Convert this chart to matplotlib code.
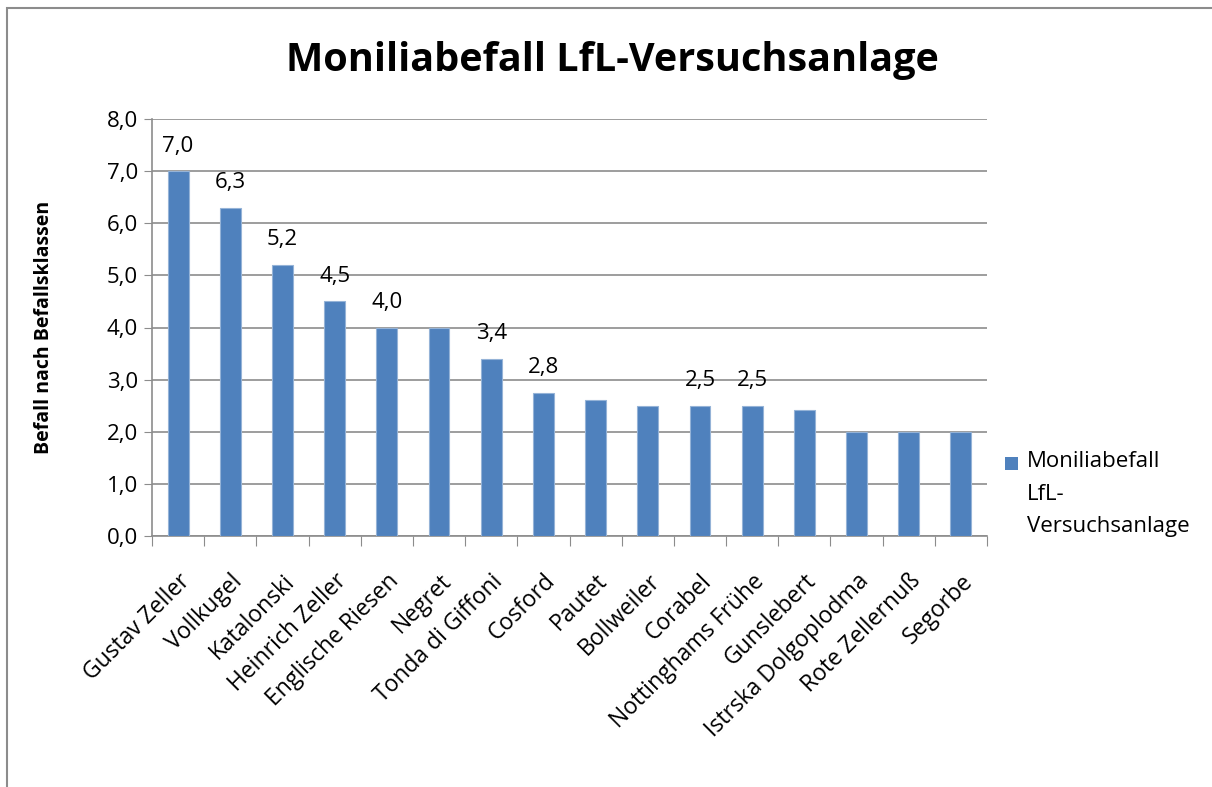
import matplotlib.pyplot as plt
from matplotlib.patches import Rectangle

plt.rcParams['font.family'] = ['Open Sans', 'DejaVu Sans']

# Daten
sorten = ['Gustav Zeller', 'Vollkugel', 'Katalonski', 'Heinrich Zeller', 'Englische Riesen',
          'Negret', 'Tonda di Giffoni', 'Cosford', 'Pautet', 'Bollweiler', 'Corabel',
          'Nottinghams Frühe', 'Gunslebert', 'Istrska Dolgoplodma', 'Rote Zellernuß', 'Segorbe']
befall = [7.0, 6.3, 5.2, 4.5, 4.0, 4.0, 3.4, 2.75, 2.6, 2.5, 2.5, 2.5, 2.42, 2.0, 2.0, 2.0]
# Datenbeschriftungen (nur bei einigen Balken sichtbar)
beschriftung = ['7,0', '6,3', '5,2', '4,5', '4,0', '', '3,4', '2,8', '', '', '2,5', '2,5', '', '', '', '']
y_ticks = [0, 1, 2, 3, 4, 5, 6, 7, 8]
serie = 'Moniliabefall\nLfL-\nVersuchsanlage'

fig = plt.figure(figsize=(12.12, 7.87), dpi=100)
W, H = 1212, 787

# Rahmen des Diagrammbereichs
fig.patches.append(Rectangle((7 / W, -0.1), 1.2, (H - 8) / H + 0.1, transform=fig.transFigure,
                             fill=False, edgecolor='#8c8c8c', linewidth=1.5))

ax = fig.add_axes([152 / W, 1 - 536 / H, (987 - 152) / W, (536 - 119) / H])
x = range(len(sorten))
bars = ax.bar(x, befall, width=0.4, color='#4F81BD', edgecolor='#95B3D7', linewidth=0.8, zorder=3)

for xi, v, t in zip(x, befall, beschriftung):
    if t:
        ax.annotate(t, (xi, v), xytext=(0, 18), textcoords='offset points',
                    ha='center', va='center', fontsize=16)

ax.set_xlim(-0.5, len(sorten) - 0.5)
ax.set_ylim(0, 8)
ax.set_yticks(y_ticks)
ax.set_yticklabels([f'{v:.1f}'.replace('.', ',') for v in y_ticks], fontsize=16)
ax.yaxis.grid(True, color='#8c8c8c', linewidth=1.2, zorder=0)
ax.tick_params(axis='y', length=6, color='#8c8c8c', pad=4)

# Teilstriche zwischen den Kategorien
ax.set_xticks([i - 0.5 for i in range(len(sorten) + 1)])
ax.set_xticklabels([])
ax.tick_params(axis='x', length=7, color='#8c8c8c')
ax.set_xticks(list(x), minor=True)
ax.set_xticklabels(sorten, minor=True, rotation=45, ha='right', rotation_mode='anchor', fontsize=16.5)
ax.tick_params(axis='x', which='minor', length=0, pad=24)

for s in ['top', 'right']:
    ax.spines[s].set_visible(False)
ax.spines['left'].set_color('#8c8c8c')
ax.spines['bottom'].set_color('#8c8c8c')
ax.spines['left'].set_linewidth(1.2)
ax.spines['bottom'].set_linewidth(1.2)

ax.set_ylabel('Befall nach Befallsklassen', fontsize=14, fontweight='bold')
ax.yaxis.set_label_coords((54 - 152) / (987 - 152), 0.5)

fig.text(612 / W, 1 - 60 / H, 'Moniliabefall LfL-Versuchsanlage', ha='center', va='center',
         fontsize=28.5, fontweight='bold')

# Legende
fig.patches.append(Rectangle((1005 / W, 1 - 470 / H), 13 / W, 13 / H, transform=fig.transFigure,
                             facecolor='#4F81BD', edgecolor='none'))
fig.text(1027 / W, 1 - 451 / H, serie, ha='left', va='top', fontsize=16, linespacing=1.72)

fig.savefig('out.png', dpi=100)
